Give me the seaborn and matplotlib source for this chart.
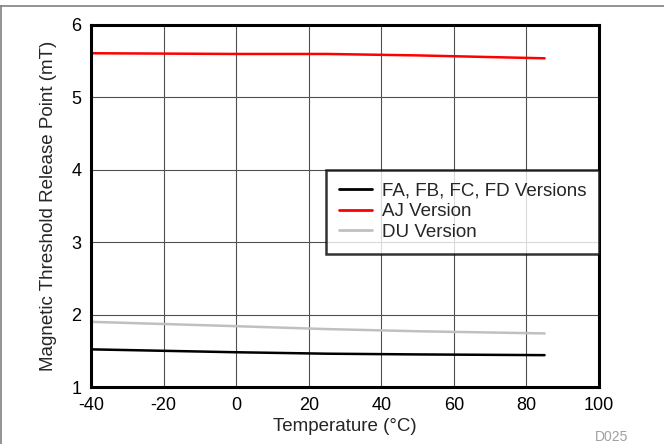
import matplotlib
matplotlib.use("Agg")
import matplotlib.pyplot as plt
import pandas as pd
import seaborn as sns
from matplotlib.lines import Line2D

# ── data ──────────────────────────────────────────────────────────────────────
temp_fa = [-40, -20, 0, 25, 50, 85]
brp_fa = [1.52, 1.50, 1.48, 1.46, 1.45, 1.44]

temp_aj = [-40, 0, 25, 50, 85]
brp_aj = [5.61, 5.60, 5.60, 5.58, 5.54]

temp_du = [-40, 0, 25, 50, 85]
brp_du = [1.90, 1.84, 1.80, 1.77, 1.74]

labels = ["FA, FB, FC, FD Versions", "AJ Version", "DU Version"]
colors = ["#000000", "#ff0000", "#c0c0c0"]
x_ticks = [-40, -20, 0, 20, 40, 60, 80, 100]
y_ticks = [1, 2, 3, 4, 5, 6]

sns.set_theme(style="white")
plt.rcParams["font.family"] = ["Liberation Sans", "DejaVu Sans"]
plt.rcParams["axes.unicode_minus"] = False

fig = plt.figure(figsize=(6.64, 4.44), dpi=100)
ax = fig.add_axes([91 / 664, 1 - 387 / 444, 508 / 664, 362 / 444])

series = [(temp_fa, brp_fa), (temp_aj, brp_aj), (temp_du, brp_du)]
for (x, y), lab, col in zip(series, labels, colors):
    df = pd.DataFrame({"t": x, "b": y})
    sns.lineplot(data=df, x="t", y="b", ax=ax, color=col, linewidth=1.8, label=lab)

ax.set_xlim(-40, 100)
ax.set_ylim(1, 6)
ax.set_xticks(x_ticks)
ax.set_xticklabels([str(v) for v in x_ticks])
ax.set_yticks(y_ticks)
ax.set_yticklabels([str(v) for v in y_ticks])
ax.grid(True, color="#505050", linewidth=0.8)
ax.set_axisbelow(True)
for s in ax.spines.values():
    s.set_visible(True)
    s.set_color("black")
    s.set_linewidth(2.2)
ax.tick_params(axis="both", length=0, labelsize=13, colors="black", pad=7)
ax.set_xlabel("Temperature (°C)", fontsize=13.5, labelpad=3)
ax.set_ylabel("Magnetic Threshold Release Point (mT)", fontsize=13.5, labelpad=10)

leg = ax.legend(loc="upper right", bbox_to_anchor=(1.0, 0.6), fontsize=13.5,
                frameon=True, fancybox=False, borderpad=0.68, handlelength=1.8,
                labelspacing=0.19, handletextpad=0.5, borderaxespad=0)
leg.get_frame().set_edgecolor("black")
leg.get_frame().set_linewidth(1.8)
for h in leg.get_lines():
    h.set_linewidth(2.0)

fig.text(595 / 664, 1 - 437 / 444, "D025", color="#a0a0a0", fontsize=10, ha="left", va="center")

# thin frame lines along top and left edge
fig.add_artist(Line2D([0, 1], [1 - 6.5 / 444] * 2, color="#808080", linewidth=1.2,
                      transform=fig.transFigure))
fig.add_artist(Line2D([1 / 664] * 2, [0, 1 - 6.5 / 444], color="#808080", linewidth=1.2,
                      transform=fig.transFigure))

fig.savefig("out.png", dpi=100)
